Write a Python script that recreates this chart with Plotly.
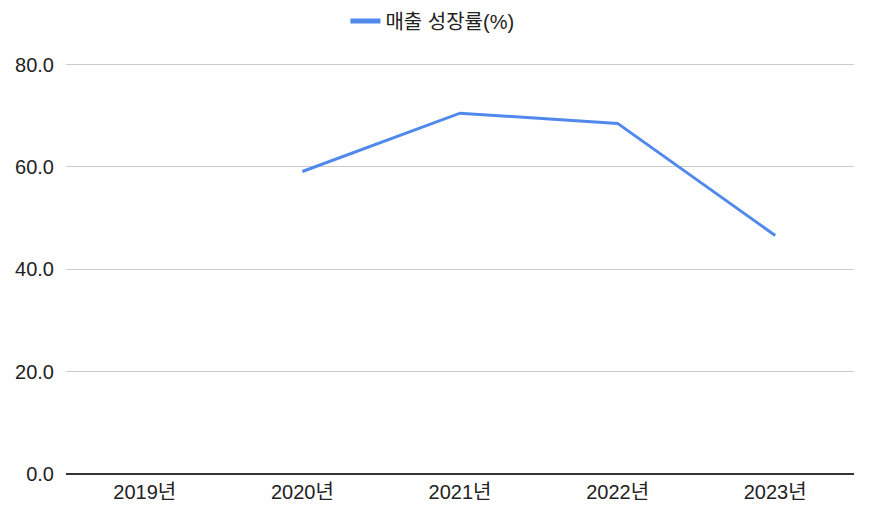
import plotly.graph_objects as go

categories = ["2019년", "2020년", "2021년", "2022년", "2023년"]
growth = [None, 59.1, 70.5, 68.5, 46.6]
series_name = "매출 성장률(%)"
y_ticks = [0, 20, 40, 60, 80]
y_tick_labels = ["0.0", "20.0", "40.0", "60.0", "80.0"]

font_family = "Liberation Sans, Arial, Noto Sans CJK KR, sans-serif"
line_color = "#5088EC"

fig = go.Figure()
fig.add_trace(go.Scatter(
    x=categories, y=growth, name=series_name, mode="lines",
    line=dict(color=line_color, width=3),
    connectgaps=False, showlegend=False,
))
# legend entry with the thicker swatch used by the reference
fig.add_trace(go.Scatter(
    x=[categories[0]], y=[None], name=series_name, mode="lines",
    line=dict(color=line_color, width=5), hoverinfo="skip",
))

fig.update_layout(
    width=872, height=522,
    margin=dict(l=66, r=18, t=63, b=48),
    paper_bgcolor="white", plot_bgcolor="white",
    font=dict(family=font_family, size=20, color="#222222"),
    showlegend=True,
    legend=dict(orientation="h", x=0.465, xanchor="center",
                y=1 - 21 / 522, yanchor="middle", yref="container",
                font=dict(size=20, color="#222222")),
    xaxis=dict(type="category", range=[-0.5, 4.5], showgrid=False, showline=False,
               ticks="", ticklabelstandoff=4, tickfont=dict(size=20)),
    yaxis=dict(range=[0, 80.3], tickvals=y_ticks, ticktext=y_tick_labels,
               showgrid=True, gridcolor="#CCCCCC", gridwidth=1,
               zeroline=True, zerolinecolor="#333333", zerolinewidth=2,
               showline=False, ticks="", ticklabelstandoff=11, tickfont=dict(size=20)),
)

fig.write_html("out.html", config={"displayModeBar": False},
               post_script="document.body.style.margin='0';")
